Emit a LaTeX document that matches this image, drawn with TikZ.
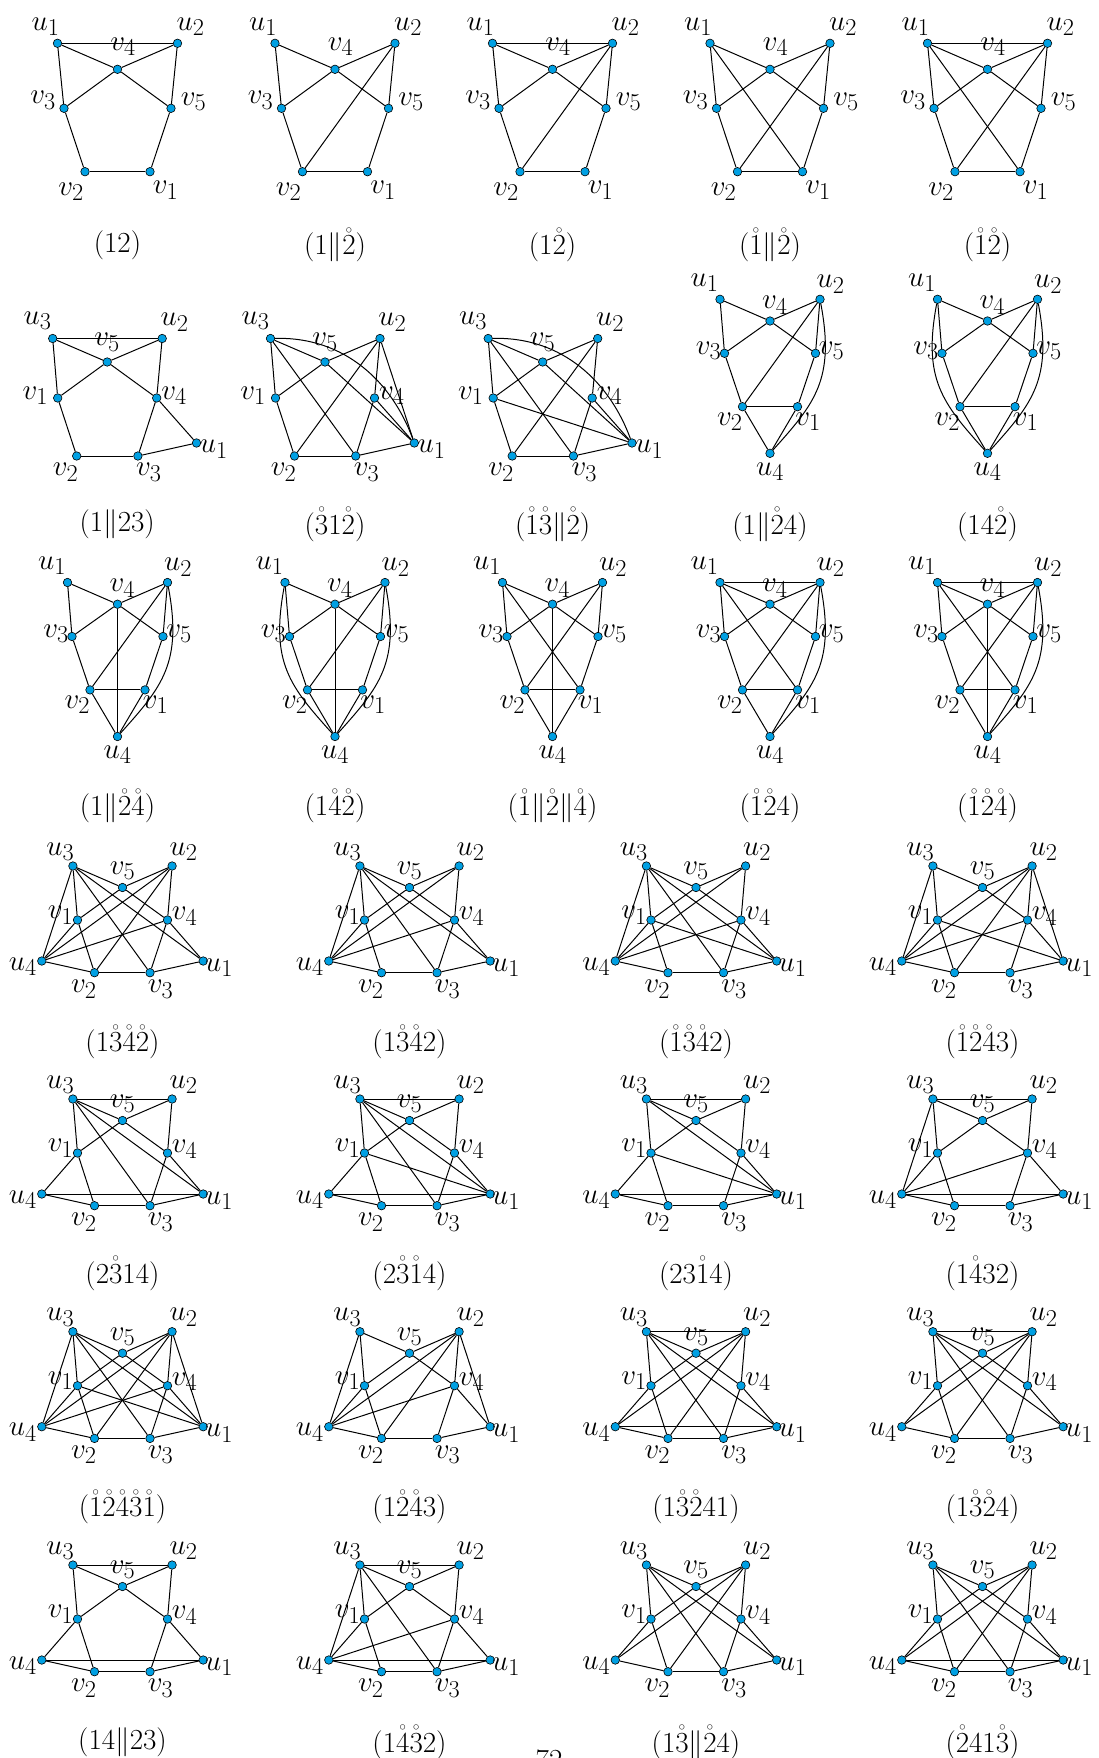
\documentclass[tikz,border=0pt]{standalone}
\usepackage{amsmath}
\definecolor{vcol}{RGB}{0,160,227}
\pgfdeclarelayer{bg}\pgfsetlayers{bg,main}
\tikzset{
  vtx/.style={circle,draw=black,line width=0.6pt,fill=vcol,inner sep=0pt,minimum size=8.5pt},
  lab/.style={inner sep=0pt,font=\Huge,scale=1.17,transform shape},
  capt/.style={inner sep=0pt,font=\Huge,scale=1.17,transform shape},
  ed/.style={line width=1pt,black},
}
\newcommand\V[6]{\node[vtx] (#1) at (#2,#3) {}; \node[lab] (#1l) at ({#2+#4},{#3+#5}) {$#6$};}
% template A (row 1)
\newcommand\GA[4]{%
\begin{scope}[shift={(#2,0)},name prefix=#1-]
\V{u1}{-60}{43.3}{-12}{-16.6}{u_1}
\V{u2}{60}{43.3}{13}{-16.6}{u_2}
\V{v4}{0}{69.3}{5.6}{-22.6}{v_4}
\V{v3}{-53.5}{108.3}{-21}{-8}{v_3}
\V{v5}{53.5}{108.3}{22.6}{-6.6}{v_5}
\V{v2}{-32.5}{171.7}{-14}{20}{v_2}
\V{v1}{32.5}{171.7}{15.6}{18.3}{v_1}
\node[capt] (caption) at (0,245) {$#4$};
\begin{pgfonlayer}{bg}
\foreach \a/\b in {#3} \draw[ed] (\a) -- (\b);
\end{pgfonlayer}
\end{scope}}
% template B (u4 below)
\newcommand\cR{\draw[ed] (u2) .. controls +(15,80) and +(45,-50) .. (u4);}
\newcommand\cL{\draw[ed] (u1) .. controls +(-15,80) and +(-45,-50) .. (u4);}
\newcommand\GB[7]{%
\begin{scope}[shift={(#2,#3)},name prefix=#1-]
\V{u1}{-50}{0}{-15.4}{-16.6}{u_1}
\V{u2}{50}{0}{10.6}{-15}{u_2}
\V{v4}{0}{21.7}{4.8}{-16}{v_4}
\V{v3}{-45.5}{54}{-16}{-2.7}{v_3}
\V{v5}{45.5}{54}{16}{-2.7}{v_5}
\V{v2}{-27.5}{107.4}{-12.6}{15}{v_2}
\V{v1}{27.5}{107.4}{10.5}{15}{v_1}
\V{u4}{0}{154}{0}{18.3}{u_4}
\node[capt] (caption) at (0,{#6-#3}) {$#7$};
\begin{pgfonlayer}{bg}
\foreach \a/\b in {#4} \draw[ed] (\a) -- (\b);
#5
\end{pgfonlayer}
\end{scope}}
% template C (row 2, u1 right)
\newcommand\cU{\draw[ed] (u3) .. controls +(75,-2) and +(-22,-60) .. (u1);}
\newcommand\GC[5]{%
\begin{scope}[shift={(#2,0)},name prefix=#1-]
\V{u3}{-54.5}{338.5}{-15}{-17.7}{u_3}
\V{u2}{55}{338.5}{12.3}{-16}{u_2}
\V{v5}{0}{362}{0}{-20}{v_5}
\V{v1}{-49.5}{398}{-22.4}{-2.3}{v_1}
\V{v4}{49.5}{398}{17.4}{-2.3}{v_4}
\V{v2}{-30.5}{456}{-11}{16}{v_2}
\V{v3}{30.7}{456}{11}{16}{v_3}
\V{u1}{89.3}{443}{17.4}{6}{u_1}
\node[capt] (caption) at (10,524.5) {$#5$};
\begin{pgfonlayer}{bg}
\foreach \a/\b in {#3} \draw[ed] (\a) -- (\b);
#4
\end{pgfonlayer}
\end{scope}}
% template D (rows 4-7)
\newcommand\GD[6]{%
\begin{scope}[shift={(#2,#3)},name prefix=#1-]
\V{u3}{-49.6}{0}{-12.5}{-14.3}{u_3}
\V{u2}{49.6}{0}{11.5}{-14.3}{u_2}
\V{v5}{0}{21.5}{0}{-16.6}{v_5}
\V{v1}{-45}{54}{-17}{-5}{v_1}
\V{v4}{45}{54}{17}{-4}{v_4}
\V{u4}{-80.7}{95}{-19}{5.7}{u_4}
\V{u1}{80.7}{95}{16}{6.7}{u_1}
\V{v2}{-28}{106.7}{-10.7}{16.3}{v_2}
\V{v3}{27.5}{106.7}{10.7}{16.3}{v_3}
\node[capt] (caption) at (0,{#5-#3}) {$#6$};
\begin{pgfonlayer}{bg}
\foreach \a/\b in {#4} \draw[ed] (\a) -- (\b);
\end{pgfonlayer}
\end{scope}}
\begin{document}
\begin{tikzpicture}[x=1pt,y=-1pt]
\clip (0,0) rectangle (1098,1758);
\useasboundingbox (0,0) rectangle (1098,1758);
% row 1
\GA{a1}{117.5}{u1/u2,u1/v4,u2/v4,v4/v3,v4/v5,u1/v3,u2/v5,v3/v2,v5/v1,v2/v1}{(12)}
\GA{a2}{335}{u1/v4,u2/v4,v4/v3,v4/v5,u1/v3,u2/v5,v3/v2,v5/v1,v2/v1,u2/v2}{(1\|\mathring{2})}
\GA{a3}{552.5}{u1/u2,u1/v4,u2/v4,v4/v3,v4/v5,u1/v3,u2/v5,v3/v2,v5/v1,v2/v1,u2/v2}{(1\mathring{2})}
\GA{a4}{770}{u1/v4,u2/v4,v4/v3,v4/v5,u1/v3,u2/v5,v3/v2,v5/v1,v2/v1,u2/v2,u1/v1}{(\mathring{1}\|\mathring{2})}
\GA{a5}{987.5}{u1/u2,u1/v4,u2/v4,v4/v3,v4/v5,u1/v3,u2/v5,v3/v2,v5/v1,v2/v1,u2/v2,u1/v1}{(\mathring{1}\mathring{2})}
% row 2
\GC{c1}{107.2}{u3/u2,u3/v5,u2/v5,u3/v1,u2/v4,v5/v1,v5/v4,v1/v2,v4/v3,v2/v3,v4/u1,v3/u1}{}{(1\|23)}
\GC{c2}{325}{u3/v1,u3/v5,u3/v3,u2/v5,u2/v2,u2/v4,u2/u1,v5/v1,v5/u1,v1/v2,v4/v3,v4/u1,v2/v3,v3/u1}{\cU}{(\mathring{3}1\mathring{2})}
\GC{c3}{542.7}{u3/v1,u3/v5,u3/v3,u2/v5,u2/v2,u2/v4,v5/v1,v5/u1,v1/v2,v1/u1,v4/v3,v4/u1,v2/v3,v3/u1}{\cU}{(\mathring{1}\mathring{3}\|\mathring{2})}
\GB{b4}{770}{299.3}{u1/v4,u2/v4,v4/v3,v4/v5,u1/v3,u2/v5,v3/v2,v5/v1,v2/v1,u2/v2,v2/u4,v1/u4}{\cR}{524.5}{(1\|\mathring{2}4)}
\GB{b5}{987.5}{299.3}{u1/v4,u2/v4,v4/v3,v4/v5,u1/v3,u2/v5,v3/v2,v5/v1,v2/v1,u2/v2,v2/u4,v1/u4}{\cR\cL}{524.5}{(14\mathring{2})}
% row 3
\GB{d1}{117.5}{582.5}{u1/v4,u2/v4,v4/v3,v4/v5,u1/v3,u2/v5,v3/v2,v5/v1,v2/v1,u2/v2,v2/u4,v1/u4,v4/u4}{\cR}{806}{(1\|\mathring{2}\mathring{4})}
\GB{d2}{335}{582.5}{u1/v4,u2/v4,v4/v3,v4/v5,u1/v3,u2/v5,v3/v2,v5/v1,v2/v1,u2/v2,v2/u4,v1/u4,v4/u4}{\cR\cL}{806}{(1\mathring{4}\mathring{2})}
\GB{d3}{552.5}{582.5}{u1/v4,u2/v4,v4/v3,v4/v5,u1/v3,u2/v5,v3/v2,v5/v1,v2/v1,u2/v2,v2/u4,v1/u4,u1/v1,v4/u4}{}{806}{(\mathring{1}\|\mathring{2}\|\mathring{4})}
\GB{d4}{770}{582.5}{u1/v4,u2/v4,v4/v3,v4/v5,u1/v3,u2/v5,v3/v2,v5/v1,v2/v1,u2/v2,v2/u4,v1/u4,u1/u2,u1/v1}{\cR}{806}{(\mathring{1}\mathring{2}4)}
\GB{d5}{987.5}{582.5}{u1/v4,u2/v4,v4/v3,v4/v5,u1/v3,u2/v5,v3/v2,v5/v1,v2/v1,u2/v2,v2/u4,v1/u4,u1/u2,u1/v1,v4/u4}{\cR}{806}{(\mathring{1}\mathring{2}\mathring{4})}
% row 4
\GD{e1}{122.5}{866}{u3/u4,u3/v1,u3/v5,u3/v3,u3/u1,u2/v5,u2/v4,u2/u4,u2/v2,v5/v1,v5/v4,v1/u4,v1/v2,v4/u4,v4/v3,v4/u1,u4/v2,v2/v3,v3/u1}{1042}{(1\mathring{3}\mathring{4}\mathring{2})}
\GD{e2}{409.5}{866}{u3/u4,u3/v1,u3/v5,u3/v3,u3/u1,u2/v5,u2/v4,u2/u4,v5/v1,v5/v4,v1/u4,v1/v2,v4/u4,v4/v3,v4/u1,u4/v2,v2/v3,v3/u1}{1042}{(1\mathring{3}\mathring{4}2)}
\GD{e3}{696}{866}{u3/u4,u3/v1,u3/v5,u3/v3,u3/u1,u2/v5,u2/v4,u2/u4,v5/v1,v5/v4,v1/u4,v1/v2,v1/u1,v4/u4,v4/v3,v4/u1,u4/v2,v2/v3,v3/u1}{1042}{(\mathring{1}\mathring{3}\mathring{4}2)}
\GD{e4}{982.5}{866}{u3/u4,u3/v1,u3/v5,u2/v5,u2/v4,u2/u1,u2/u4,u2/v2,v5/v1,v5/v4,v1/u4,v1/v2,v1/u1,v4/u4,v4/v3,v4/u1,u4/v2,v2/v3,v3/u1}{1042}{(\mathring{1}\mathring{2}\mathring{4}3)}
% row 5
\GD{f1}{122.5}{1099}{u3/u2,u3/v5,u2/v5,u3/v1,u2/v4,v5/v1,v5/v4,v1/u4,v1/v2,v4/v3,v4/u1,u4/u1,u4/v2,v2/v3,v3/u1,u3/v3,u3/u1}{1273.5}{(2\mathring{3}14)}
\GD{f2}{409.5}{1099}{u3/u2,u3/v5,u2/v5,u3/v1,u2/v4,v5/v1,v5/v4,v1/u4,v1/v2,v4/v3,v4/u1,u4/u1,u4/v2,v2/v3,v3/u1,u3/v3,u3/u1,v1/u1}{1273.5}{(2\mathring{3}\mathring{1}4)}
\GD{f3}{696}{1099}{u3/u2,u3/v5,u2/v5,u3/v1,u2/v4,v5/v1,v5/v4,v1/u4,v1/v2,v4/v3,v4/u1,u4/u1,u4/v2,v2/v3,v3/u1,u3/u1,v1/u1}{1273.5}{(23\mathring{1}4)}
\GD{f4}{982.5}{1099}{u3/u2,u3/v5,u2/v5,u3/v1,u2/v4,v5/v1,v5/v4,v1/u4,v1/v2,v4/v3,v4/u1,u4/u1,u4/v2,v2/v3,v3/u1,u3/u4,u4/v4}{1273.5}{(1\mathring{4}32)}
% row 6
\GD{g1}{122.5}{1331.7}{u3/u4,u3/v1,u3/v5,u3/v3,u3/u1,u2/v5,u2/u4,u2/v2,u2/v4,u2/u1,v5/v1,v5/v4,v1/u4,v1/v2,v1/u1,v4/u4,v4/v3,v4/u1,u4/v2,v2/v3,v3/u1}{1507}{(\mathring{1}\mathring{2}\mathring{4}\mathring{3}\mathring{1})}
\GD{g2}{409.5}{1331.7}{u3/u4,u3/v1,u3/v5,u2/v5,u2/u4,u2/v2,u2/v4,u2/u1,v5/v1,v5/v4,v1/u4,v1/v2,v4/u4,v4/v3,v4/u1,u4/v2,v2/v3,v3/u1}{1507}{(1\mathring{2}\mathring{4}3)}
\GD{g3}{696}{1331.7}{u3/u2,u3/v5,u2/v5,u3/v1,u2/v4,v5/v1,v5/v4,v1/u4,v1/v2,v4/v3,v4/u1,u4/u1,u4/v2,v2/v3,v3/u1,u3/v3,u3/u1,u2/u4,u2/v2}{1507}{(1\mathring{3}\mathring{2}41)}
\GD{g4}{982.5}{1331.7}{u3/u2,u3/v5,u2/v5,u3/v1,u2/v4,v5/v1,v5/v4,v1/u4,v1/v2,v4/v3,v4/u1,u4/v2,v2/v3,v3/u1,u3/v3,u3/u1,u2/u4,u2/v2}{1507}{(1\mathring{3}\mathring{2}4)}
% row 7
\GD{h1}{122.5}{1565}{u3/u2,u3/v5,u2/v5,u3/v1,u2/v4,v5/v1,v5/v4,v1/u4,v1/v2,v4/v3,v4/u1,u4/u1,u4/v2,v2/v3,v3/u1}{1742.5}{(14\|23)}
\GD{h2}{409.5}{1565}{u3/u2,u3/v5,u2/v5,u3/v1,u2/v4,v5/v1,v5/v4,v1/u4,v1/v2,v4/v3,v4/u1,u4/u1,u4/v2,v2/v3,v3/u1,u3/u4,u3/v3,u4/v4}{1742.5}{(1\mathring{4}\mathring{3}2)}
\GD{h3}{696}{1565}{u3/v1,u3/v5,u3/v3,u3/u1,u2/v5,u2/v4,u2/u4,u2/v2,v5/v1,v5/v4,v1/u4,v1/v2,v4/v3,v4/u1,u4/v2,v2/v3,v3/u1}{1742.5}{(1\mathring{3}\|\mathring{2}4)}
\GD{h4}{982.5}{1565}{u3/v1,u3/v5,u3/v3,u3/u1,u2/v5,u2/v4,u2/u4,u2/v2,v5/v1,v5/v4,v1/u4,v1/v2,v4/v3,v4/u1,u4/v2,v2/v3,v3/u1,u4/u1}{1742.5}{(\mathring{2}41\mathring{3})}
\node[capt,anchor=north] (pagenum) at (549,1750) {72};
\end{tikzpicture}
\end{document}
